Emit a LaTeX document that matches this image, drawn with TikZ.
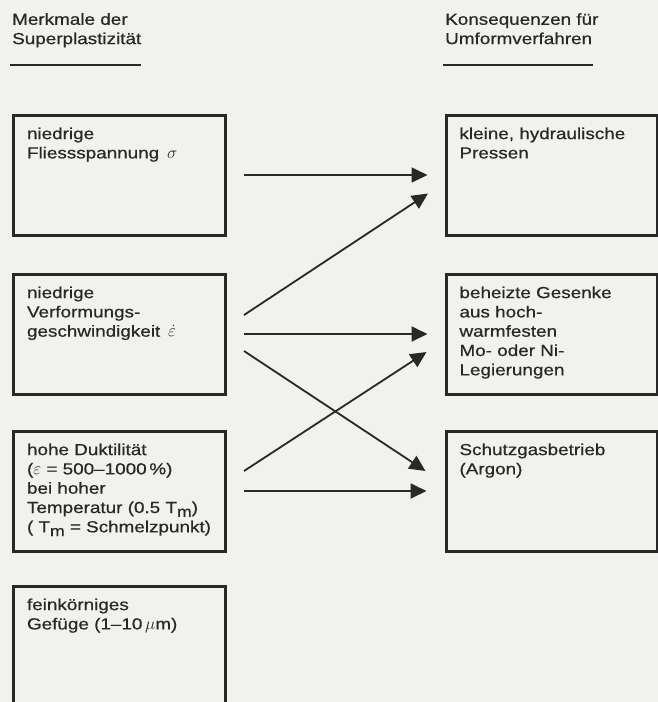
\documentclass[tikz,border=0pt]{standalone}
\usepackage{fontspec}
\setmainfont{Liberation Sans}[FakeStretch=1.18, FakeBold=0.6]
\usepackage{amsmath}
\usetikzlibrary{arrows.meta}

\definecolor{paper}{RGB}{241,241,238}
\definecolor{ink}{RGB}{40,40,40}
\newcommand{\boxtext}[2][120pt]{\parbox[c][#1][t]{184pt}{\raggedright\vspace*{12.5pt}#2}}
\newcommand{\Tm}{T\raisebox{-0.45ex}{\fontsize{15}{15}\selectfont m}}

\begin{document}
\begin{tikzpicture}[x=1pt, y=-1pt, every node/.style={font=\fontsize{16}{19.3}\selectfont, text=ink},
    featbox/.style={draw=ink, line width=3pt, anchor=north west, inner xsep=13pt, inner ysep=0pt,
        minimum width=212pt, minimum height=120pt},
    conn/.style={draw=ink, line width=1.8pt, -{Triangle[length=16pt,width=15pt]}},
    rule/.style={draw=ink, line width=2.5pt}]
    \useasboundingbox[fill=paper] (0,0) rectangle (658,702);

    % Headings
    \node[anchor=north west, inner sep=0pt, align=left] (hleft) at (12,13) {Merkmale der\\Superplastizität};
    \node[anchor=north west, inner sep=0pt, align=left] (hright) at (445,13) {Konsequenzen für\\Umformverfahren};
    \draw[rule] (10,65) -- (141,65);
    \draw[rule] (443,65) -- (593,65);

    % Features (left)
    \node[featbox] (l1) at (11.5,113.5) {\boxtext{niedrige\\Fliessspannung \,$\sigma$}};
    \node[featbox] (l2) at (11.5,272.5) {\boxtext{niedrige\\Verformungs-\\geschwindigkeit \,$\dot{\varepsilon}$}};
    \node[featbox] (l3) at (11.5,429.5) {\boxtext{hohe Duktilität\\($\varepsilon$ = 500–1000\,\%)\\bei hoher\\Temperatur (0.5 \Tm)\\( \Tm{} = Schmelzpunkt)}};
    \node[featbox, minimum height=140pt] (l4) at (11.5,584.5) {\boxtext[140pt]{feinkörniges\\Gefüge (1–10\,$\mu$m)}};

    % Consequences (right)
    \node[featbox, minimum width=211pt] (r1) at (444.5,113.5) {\boxtext{kleine, hydraulische\\Pressen}};
    \node[featbox, minimum width=211pt] (r2) at (444.5,272.5) {\boxtext{beheizte Gesenke\\aus hoch-\\warmfesten\\Mo- oder Ni-\\Legierungen}};
    \node[featbox, minimum width=211pt] (r3) at (444.5,429.5) {\boxtext{Schutzgasbetrieb\\(Argon)}};

    % Arrows
    \draw[conn] ([xshift=17.5pt]l1.east) -- ([xshift=-17pt]r1.west);
    \draw[conn] ([xshift=17.5pt,yshift=19pt]l2.east) -- ([xshift=-16.5pt,yshift=-18.5pt]r1.west);
    \draw[conn] ([xshift=17.5pt]l2.east) -- ([xshift=-17pt]r2.west);
    \draw[conn] ([xshift=17.5pt,yshift=-17pt]l2.east) -- ([xshift=-19pt,yshift=20pt]r3.west);
    \draw[conn] ([xshift=17.5pt,yshift=20pt]l3.east) -- ([xshift=-18pt,yshift=-18pt]r2.west);
    \draw[conn] ([xshift=17.5pt]l3.east) -- ([xshift=-18pt]r3.west);
\end{tikzpicture}
\end{document}
